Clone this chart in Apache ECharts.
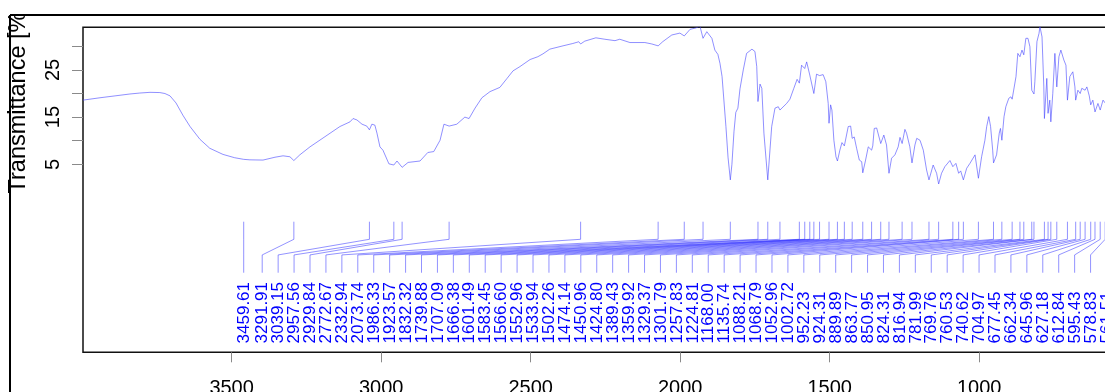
<!DOCTYPE html>
<html><head><meta charset="utf-8">
<script src="https://cdn.jsdelivr.net/npm/echarts@6/dist/echarts.min.js"></script>
<style>html,body{margin:0;padding:0;background:#fff}#c{width:1105px;height:392px}</style>
</head><body><div id="c"></div>
<script>
// ---- data ----
const WAVENUMBER = [3997,3940,3890,3840,3807,3773,3740,3723,3706,3686,3663,3639,3606,3573,3529,3490,3459.6,3439,3395,3355,3328,3305,3291.9,3272,3238,3188,3138,3104,3094,3081,3064,3048,3039.2,3031,3021,3014,3004,2994,2974,2957.6,2947,2929.8,2910,2870,2844,2824,2803,2790,2772.7,2747,2720,2706,2686,2663,2636,2603,2579,2559,2536,2502,2476,2459,2436,2392,2359,2339,2332.9,2319,2282,2252,2218,2202,2168,2118,2095,2073.7,2058,2028,2001,1986.3,1967,1947,1934,1923.6,1911,1894,1884,1874,1867,1860,1847,1840,1832.3,1827,1820,1814,1807,1800,1789,1778,1760,1750,1744,1739.9,1733,1727,1720,1707.1,1694,1683,1672,1666.4,1644,1633,1620,1609,1601.5,1594,1583.5,1577,1566.6,1560.5,1553,1544,1533.9,1522,1513,1505,1502.3,1497,1492.6,1486,1479,1474.1,1466,1459,1451,1446,1438,1430,1424.8,1418,1410,1401,1393,1389.4,1380,1371,1359.9,1356,1351,1343,1338,1329.4,1319,1310,1301.8,1293,1282,1271,1265,1257.8,1248.5,1243,1232,1224.8,1215,1209,1198,1187,1176,1168,1154,1148,1142.5,1135.7,1126,1115,1098,1088.2,1078,1068.8,1062,1053,1042,1031,1014,1009,1002.7,992,981,975,968,962,955,952.2,942,933,929,924.3,917,911,901,894,889.9,877,871,863.8,857,851,844,837,830.5,824.3,820.5,816.9,814,807,800,797,790,784,782,774,769.8,764,760.5,754,747,740.6,733.5,727,717,710,705,697,687,680,677.5,670,662.3,657,646,640,632,627.2,620,612.8,603,595.4,586,578.8,570,560,550];
const TRANSMITTANCE = [18.6,19.1,19.5,19.9,20.1,20.25,20.2,20.0,19.5,18.0,15.4,13.0,10.3,8.4,7.1,6.4,6.05,5.95,5.9,6.5,6.8,6.6,5.8,7.0,8.7,10.85,13.0,14.0,14.7,14.4,13.5,13.1,12.3,13.5,13.3,11.6,8.7,8.0,5.1,4.85,5.7,4.36,5.4,5.7,7.5,7.7,10.1,13.5,13.1,13.5,15.0,14.7,16.9,19.1,20.4,21.3,23.2,24.8,25.7,27.2,27.8,28.4,29.4,30.1,30.6,30.97,30.5,31.1,31.8,31.5,31.2,31.5,30.8,30.8,30.5,30.1,31.0,32.4,32.8,32.2,33.6,33.9,34.3,31.7,33.1,31.7,29.2,28.3,26.4,23.6,13.0,6.5,1.7,5.0,12.0,16.0,16.9,21.0,25.0,28.5,29.4,28.9,25.7,18.3,22.0,21.1,11.6,1.7,13.0,16.9,17.2,16.5,17.9,18.8,21.1,23.0,22.2,26.0,25.3,26.7,23.9,23.6,20.0,24.1,23.8,24.0,22.5,17.9,13.7,17.6,16.5,10.1,6.6,5.7,8.0,9.6,8.9,9.3,13.0,13.1,10.5,10.8,8.4,5.9,5.55,3.2,5.9,8.7,8.0,8.9,12.6,12.7,12.6,9.4,11.2,9.1,3.1,6.3,7.0,8.7,10.7,9.4,12.4,11.6,8.7,5.3,9.1,10.5,10.1,8.0,3.8,1.7,4.85,4.5,3.1,0.83,3.1,4.5,5.8,4.5,5.2,3.1,3.6,1.7,4.15,5.2,7.0,6.6,2.05,6.6,10.1,13.0,15.1,13.0,8.0,5.3,7.0,11.6,12.6,10.1,15.1,17.2,19.0,19.3,18.8,23.6,28.5,27.8,29.2,28.2,31.7,31.7,29.9,20.7,21.0,19.9,22.5,31.0,32.75,34.2,32.0,21.4,14.7,23.2,15.8,18.6,14.0,20.0,28.5,21.4,27.8,29.2,27.1,26.0,18.6,23.6,24.6,21.4,18.6,20.7,20.0,21.1,20.7,21.4,19.5,17.6,18.6,16.1,17.9,16.5,18.6,18.0,18.5,17.5,18.2];
const PEAKS = [3459.61,3291.91,3039.15,2957.56,2929.84,2772.67,2332.94,2073.74,1986.33,1923.57,1832.32,1739.88,1707.09,1666.38,1601.49,1583.45,1566.60,1552.96,1533.94,1502.26,1474.14,1450.96,1424.80,1389.43,1359.92,1329.37,1301.79,1257.83,1224.81,1168.00,1135.74,1088.21,1068.79,1052.96,1002.72,952.23,924.31,889.89,863.77,850.95,824.31,816.94,781.99,769.76,760.53,740.62,704.97,677.45,662.34,645.96,627.18,612.84,595.43,578.83,561.51];
const X_TICKS = [3500,3000,2500,2000,1500,1000,500];
const Y_TICKS = [5,10,15,20,25,30];
const Y_LABELS = [5,15,25];
const Y_TITLE = 'Transmittance [%]';

// ---- layout (not data) ----
const X_MIN = 400, X_MAX = 3997, Y_MIN = -34.83, Y_MAX = 34.03;
const MARK_Y = [-7.16, -10.89, -14.2, -17.97];
const TEXT_Y = -32.95;
const LABEL_START = 3397.7, LABEL_STEP = 53.27;
const FONT = '"Liberation Sans", Arial, Helvetica, sans-serif';

const labelPos = PEAKS.map((p, i) => i === 0 ? p : LABEL_START - (i - 1) * LABEL_STEP);
const spectrum = WAVENUMBER.map((w, i) => [w, TRANSMITTANCE[i]]);
const peakData = PEAKS.map((p, i) => [p, labelPos[i], MARK_Y[0]]);

const chart = echarts.init(document.getElementById('c'), null, {renderer: 'canvas'});
chart.setOption({
  animation: false,
  backgroundColor: '#fff',
  grid: {left: 83, top: 27.3, width: (X_MAX - X_MIN) * 0.29904, height: 325,
         outerBoundsMode: 'none', containLabel: false,
         show: true, borderColor: '#111', borderWidth: 1.5, backgroundColor: 'transparent'},
  xAxis: {
    type: 'value', inverse: true, min: X_MIN, max: X_MAX,
    axisLine: {show: false, onZero: false}, splitLine: {show: false},
    axisTick: {show: true, length: 10, customValues: X_TICKS, lineStyle: {color: '#8a8a8a', width: 1}},
    axisLabel: {customValues: X_TICKS, fontSize: 20, fontFamily: FONT, color: '#000', margin: 26,
                formatter: v => String(v)}
  },
  yAxis: {
    type: 'value', min: Y_MIN, max: Y_MAX,
    axisLine: {show: false, onZero: false}, splitLine: {show: false},
    axisTick: {show: true, length: 11, customValues: Y_TICKS, lineStyle: {color: '#8a8a8a', width: 1}},
    axisLabel: {customValues: Y_LABELS, rotate: 90, fontSize: 20, fontFamily: FONT, color: '#000', margin: 20,
                formatter: v => String(v)}
  },
  series: [
    {type: 'line', data: spectrum, showSymbol: false, symbol: 'none', clip: true,
     lineStyle: {color: 'rgba(70,70,255,0.6)', width: 1}, z: 3},
    {type: 'custom', data: peakData, encode: {x: [0, 1], y: 2}, clip: false, z: 4,
     renderItem: function (params, api) {
       const peak = api.value(0), lp = api.value(1);
       const a = api.coord([peak, MARK_Y[0]]), b = api.coord([peak, MARK_Y[1]]);
       const c = api.coord([lp, MARK_Y[2]]), d = api.coord([lp, MARK_Y[3]]);
       const t = api.coord([lp, TEXT_Y]);
       return {type: 'group', children: [
         {type: 'polyline', shape: {points: [a, b, c, d]},
          style: {stroke: 'rgba(40,40,255,0.5)', lineWidth: 1, fill: null}},
         {type: 'text', x: t[0] + 0.5, y: t[1], rotation: Math.PI / 2,
          style: {text: PEAKS[params.dataIndex].toFixed(2), fill: '#0000ff',
                  font: '17px ' + FONT, align: 'left', verticalAlign: 'middle'}}
       ]};
     }}
  ],
  graphic: [
    {type: 'text', x: 19, y: 193.5, rotation: Math.PI / 2, z: 10,
     style: {text: Y_TITLE, font: '23.5px ' + FONT, fill: '#000', align: 'left', verticalAlign: 'middle'}},
    {type: 'rect', shape: {x: 0, y: 0, width: 1105, height: 14}, style: {fill: '#fff'}, z: 20},
    {type: 'line', shape: {x1: 10, y1: 15, x2: 1105, y2: 15}, style: {stroke: '#000', lineWidth: 2}, z: 21},
    {type: 'line', shape: {x1: 10, y1: 15, x2: 10, y2: 392}, style: {stroke: '#000', lineWidth: 2}, z: 21}
  ]
});
</script></body></html>
